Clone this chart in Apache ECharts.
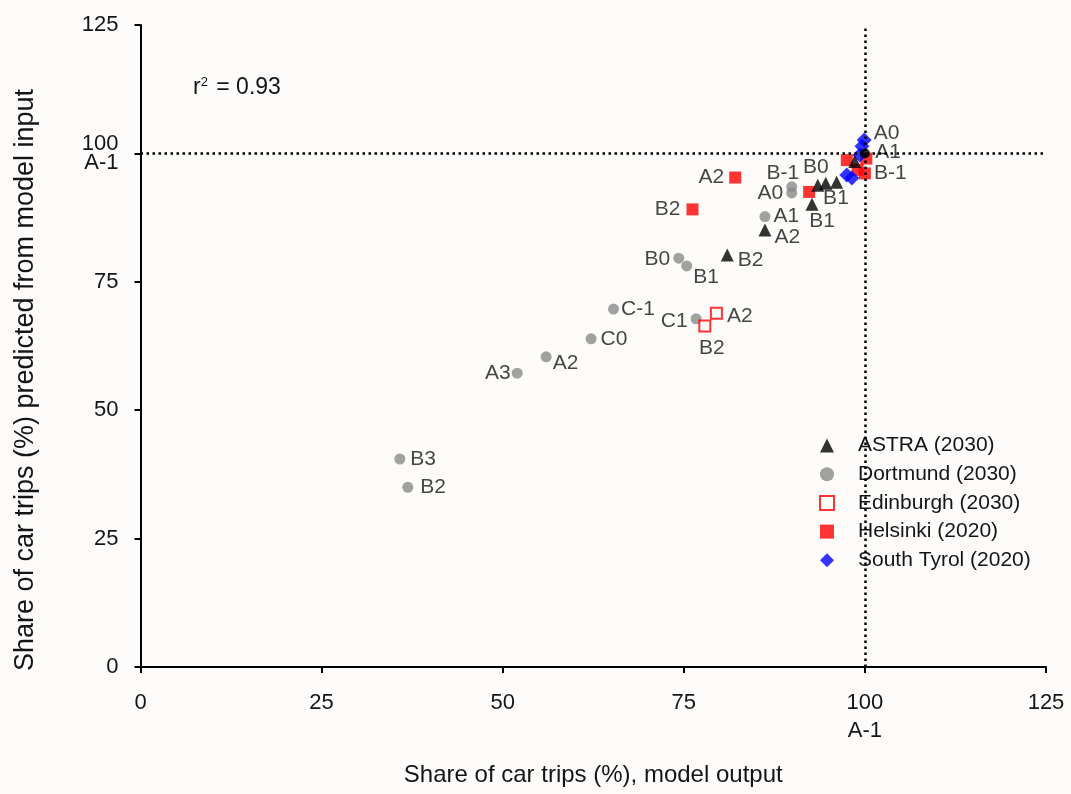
<!DOCTYPE html>
<html><head><meta charset="utf-8">
<script src="https://cdn.jsdelivr.net/npm/echarts@6/dist/echarts.min.js"></script>
<style>html,body{margin:0;padding:0;background:#fdfcfa}#c{width:1071px;height:794px}</style>
</head><body><div id="c"></div>
<script>
// ---------------- data ----------------
const seriesNames = ['ASTRA (2030)', 'Dortmund (2030)', 'Edinburgh (2030)', 'Helsinki (2020)', 'South Tyrol (2020)'];
const axisTicks = [0, 25, 50, 75, 100, 125];
const refValue = 100;            // reference scenario A-1
const refLabel = 'A-1';
const r2Text = '0.93';

const astraX = [81.0, 86.2, 92.7, 93.5, 94.6, 96.1, 98.6, 100.0];
const astraY = [80.2, 85.1, 90.1, 93.8, 94.2, 94.4, 98.4, 100.0];
const astraLabels = ['B2', 'A2', 'B1', 'B0', '', '', '', ''];

const dortmundX = [35.8, 36.9, 52.0, 56.0, 62.2, 65.3, 76.7, 74.3, 75.4, 86.2, 89.9, 89.9];
const dortmundY = [40.5, 35.0, 57.2, 60.4, 63.9, 69.7, 67.8, 79.6, 78.1, 87.7, 93.5, 92.3];
const dortmundLabels = ['B3', 'B2', 'A3', 'A2', 'C0', 'C-1', 'C1', 'B0', 'B1', 'A1', 'B-1', 'A0'];

const edinburghX = [79.5, 77.9];
const edinburghY = [68.9, 66.4];
const edinburghLabels = ['A2', 'B2'];

const helsinkiX = [82.1, 76.2, 92.3, 97.5, 99.0, 100.2, 100.0];
const helsinkiY = [95.3, 89.1, 92.5, 98.7, 96.8, 99.0, 96.1];
const helsinkiLabels = ['A2', 'B2', 'B1', '', '', 'A1', 'B-1'];

const southTyrolX = [97.5, 98.2, 99.3, 99.6, 99.9];
const southTyrolY = [95.8, 95.2, 99.7, 101.4, 102.6];
const southTyrolLabels = ['', '', '', '', 'A0'];

// ---------------- label placement (styling, not data) ----------------
function lab(pos, dist, off) { return {position: pos, distance: dist, offset: off || [0, 0]}; }
const defaultPlace = lab('right', 4);
const astraPlace = {
  'B2': lab('right', 4, [0, 5]), 'A2': lab('right', 3, [0, 7]),
  'B1': lab('bottom', 0, [10, 0]), 'B0': lab('top', 1, [-2, 0])
};
const dortmundPlace = {
  'B3': lab('right', 5), 'B2': lab('right', 7), 'A3': lab('left', 1), 'A2': lab('right', 1, [0, 6]),
  'C0': lab('right', 4), 'C-1': lab('right', 2), 'C1': lab('left', 3, [0, 2]), 'B0': lab('left', 3, [0, 1]),
  'B1': lab('right', 1, [0, 11]), 'A1': lab('right', 3), 'B-1': lab('top', 0, [-9, 2]), 'A0': lab('left', 3)
};
const edinburghPlace = { 'A2': lab('right', 4, [0, 3]), 'B2': lab('bottom', 5, [7, 0]) };
const helsinkiPlace = {
  'A2': lab('left', 5), 'B2': lab('left', 6), 'B1': lab('right', 8, [0, 6]),
  'A1': lab('right', 3, [0, -6]), 'B-1': lab('right', 3)
};
const southTyrolPlace = { 'A0': lab('right', 2, [0, -7]) };

const FONT = '"Liberation Sans", Arial, Helvetica, sans-serif';
const TXT = '#151515';
const BG = '#fdfcfa';
const RED = '#ff0000', BLUE = '#0000ff', GREY = '#8a8a8a';

function build(xs, ys, labels, place, extra) {
  return xs.map((x, i) => {
    const item = {value: [x, ys[i]]};
    const l = labels[i];
    if (l) {
      const p = place[l] || defaultPlace;
      item.label = Object.assign({show: true, formatter: l}, p);
    }
    if (extra) Object.assign(item, extra(i));
    return item;
  });
}

const labelBase = {show: false, color: TXT, fontSize: 21, fontFamily: FONT};
const tickFmt = v => (v === refValue ? v + '\n' + refLabel : String(v));

const chart = echarts.init(document.getElementById('c'), null, {renderer: 'canvas'});
const option = {
  backgroundColor: BG,
  animation: false,
  grid: {left: 140.5, right: 25, top: 25, bottom: 127, containLabel: false},
  xAxis: {
    type: 'value', min: axisTicks[0], max: axisTicks[axisTicks.length - 1], interval: axisTicks[1] - axisTicks[0],
    name: 'Share of car trips (%), model output', nameLocation: 'middle', nameGap: 96,
    nameTextStyle: {fontSize: 24, color: TXT, fontFamily: FONT},
    axisLine: {show: true, lineStyle: {color: '#000', width: 2}},
    axisTick: {show: true, length: 6, lineStyle: {color: '#000', width: 2}},
    splitLine: {show: false},
    axisLabel: {
      margin: 22, fontSize: 22, color: TXT, fontFamily: FONT, lineHeight: 28, verticalAlign: 'top',
      formatter: tickFmt
    }
  },
  yAxis: {
    type: 'value', min: axisTicks[0], max: axisTicks[axisTicks.length - 1], interval: axisTicks[1] - axisTicks[0],
    name: 'Share of car trips (%) predicted from model input', nameLocation: 'middle', nameGap: 101,
    nameTextStyle: {fontSize: 27, color: TXT, fontFamily: FONT, padding: [0, 68, 0, 0]},
    axisLine: {show: true, lineStyle: {color: '#000', width: 2}},
    axisTick: {show: true, length: 6, lineStyle: {color: '#000', width: 2}},
    splitLine: {show: false},
    axisLabel: {
      margin: 22, fontSize: 22, color: TXT, fontFamily: FONT, lineHeight: 19,
      formatter: tickFmt
    }
  },
  legend: {
    orient: 'vertical', left: 809, top: 423,
    padding: [12, 10, 12, 10], itemGap: 7.7, itemWidth: 14, itemHeight: 14,
    backgroundColor: BG,
    textStyle: {fontSize: 21, lineHeight: 21, color: TXT, fontFamily: FONT, padding: [0, 0, 0, 19]},
    data: [
      {name: seriesNames[0], icon: 'triangle', itemStyle: {color: '#000'}},
      {name: seriesNames[1], icon: 'circle', itemStyle: {color: GREY}},
      {name: seriesNames[2], icon: 'rect', itemStyle: {color: BG, borderColor: RED, borderWidth: 2}},
      {name: seriesNames[3], icon: 'rect', itemStyle: {color: RED}},
      {name: seriesNames[4], icon: 'diamond', itemStyle: {color: BLUE}}
    ]
  },
  graphic: [{
    type: 'text', left: 193, top: 76,
    style: {
      text: '{r|r}{s|2}{r| = ' + r2Text + '}',
      rich: {
        r: {fontSize: 23, fontFamily: FONT, fill: TXT},
        s: {fontSize: 13, fontFamily: FONT, fill: TXT, verticalAlign: 'top', padding: [0, 2, 10, 0]}
      }
    }
  }],
  series: [
    {
      name: seriesNames[1], type: 'scatter', symbol: 'circle', symbolSize: 11, z: 2,
      itemStyle: {color: GREY}, label: labelBase,
      data: build(dortmundX, dortmundY, dortmundLabels, dortmundPlace),
      markLine: {
        silent: true, symbol: 'none', label: {show: false},
        lineStyle: {color: '#000', width: 2.5, type: [2.5, 3.5]},
        data: [{xAxis: refValue}, {yAxis: refValue}]
      }
    },
    {
      name: seriesNames[2], type: 'scatter', symbol: 'rect', symbolSize: 11, z: 3,
      itemStyle: {color: 'rgba(255,255,255,0)', borderColor: RED, borderWidth: 2}, label: labelBase,
      data: build(edinburghX, edinburghY, edinburghLabels, edinburghPlace)
    },
    {
      name: seriesNames[3], type: 'scatter', symbol: 'rect', symbolSize: 12, z: 3,
      itemStyle: {color: RED}, label: labelBase,
      data: build(helsinkiX, helsinkiY, helsinkiLabels, helsinkiPlace)
    },
    {
      name: seriesNames[4], type: 'scatter', symbol: 'diamond', symbolSize: 15, z: 4,
      itemStyle: {color: BLUE}, label: labelBase,
      data: build(southTyrolX, southTyrolY, southTyrolLabels, southTyrolPlace)
    },
    {
      name: seriesNames[0], type: 'scatter', symbol: 'triangle', symbolSize: 13, z: 5,
      itemStyle: {color: '#000'}, label: labelBase,
      data: build(astraX, astraY, astraLabels, astraPlace,
        i => (astraX[i] === refValue && astraY[i] === refValue ? {symbol: 'circle', symbolSize: 10} : {}))
    }
  ]
};
chart.setOption(option);
</script>
</body></html>
